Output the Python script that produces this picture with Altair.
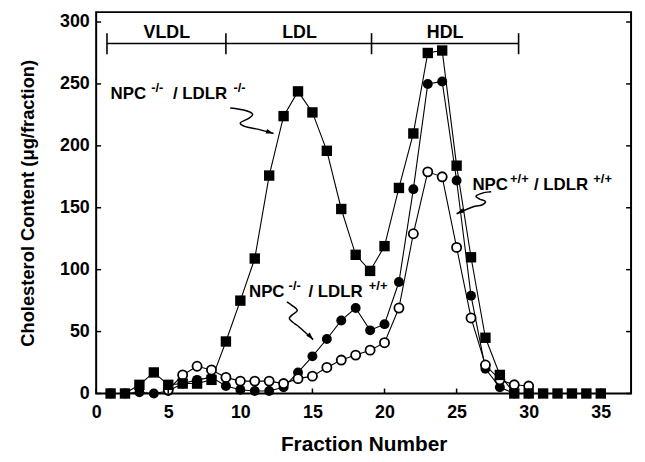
import altair as alt
import pandas as pd

# ---------------- data ----------------
fractions_all = list(range(1, 36))
npc_ko_ldlr_ko = [0, 0, 7, 17, 7, 8, 8, 11, 42, 75,
                  109, 176, 224, 244, 227, 196, 149, 112, 99, 119,
                  166, 210, 275, 277, 184, 110, 45, 15, 0, 0,
                  0, 0, 0, 0, 0]
fractions_ko_wt = list(range(1, 31))
npc_ko_ldlr_wt = [0, 0, 1, 0, 2, 8, 11, 13, 6, 3,
                  2, 2, 5, 17, 30, 44, 59, 69, 51, 56,
                  90, 165, 250, 252, 172, 79, 20, 5, 0, 0]
fractions_wt_wt = list(range(5, 31))
npc_wt_ldlr_wt = [3, 15, 22, 19, 13, 10, 10, 10, 8, 12,
                  14, 21, 27, 31, 35, 41, 69, 129, 179, 175,
                  118, 61, 23, 11, 7, 6]

x_ticks = [0, 5, 10, 15, 20, 25, 30, 35]
y_ticks = [0, 50, 100, 150, 200, 250, 300]

bracket_edges = [0.75, 9.0, 19.1, 29.3]
bracket_labels = ["VLDL", "LDL", "HDL"]
bracket_label_x = [4.9, 14.1, 24.2]

# ---------------- layout ----------------
W, H = 540, 385
XMAX, YMAX = 37.1, 308
FONT = "Liberation Sans"

xs = alt.Scale(domain=[0, XMAX], nice=False, zero=False)
ys = alt.Scale(domain=[0, YMAX], nice=False)

x_axis = alt.Axis(values=x_ticks, title="Fraction Number", labelFontSize=18,
                  titleFontSize=21, labelPadding=10, titlePadding=13,
                  labelFlush=False)
y_axis = alt.Axis(values=y_ticks, title="Cholesterol Content (\u03bcg/fraction)",
                  labelFontSize=18, titleFontSize=18.5, labelPadding=7,
                  titlePadding=22)


def X(field):
    return alt.X(f"{field}:Q", scale=xs, axis=x_axis)


def Y(field):
    return alt.Y(f"{field}:Q", scale=ys, axis=y_axis)


df_sq = pd.DataFrame({"fraction": fractions_all, "chol": npc_ko_ldlr_ko})
df_fc = pd.DataFrame({"fraction": fractions_ko_wt, "chol": npc_ko_ldlr_wt})
df_oc = pd.DataFrame({"fraction": fractions_wt_wt, "chol": npc_wt_ldlr_wt})

layers = []

# lines
for d in (df_sq, df_fc, df_oc):
    layers.append(alt.Chart(d).mark_line(color="black", strokeWidth=1.1)
                  .encode(x=X("fraction"), y=Y("chol")))

# markers
layers.append(alt.Chart(df_fc).mark_point(shape="circle", filled=True, color="black",
                                          size=100, opacity=1)
              .encode(x=X("fraction"), y=Y("chol")))
layers.append(alt.Chart(df_oc).mark_point(shape="circle", filled=True, fill="white",
                                          stroke="black", strokeWidth=1.8,
                                          size=85, opacity=1)
              .encode(x=X("fraction"), y=Y("chol")))
layers.append(alt.Chart(df_sq).mark_point(shape="square", filled=True, color="black",
                                          size=110, opacity=1)
              .encode(x=X("fraction"), y=Y("chol")))

# inward tick marks
dfx = pd.DataFrame({"t": x_ticks})
dfy = pd.DataFrame({"t": y_ticks})
layers.append(alt.Chart(dfx).mark_rule(color="black", strokeWidth=1.5)
              .encode(x=X("t"), y=alt.value(H), y2=alt.value(H - 5)))
layers.append(alt.Chart(dfy).mark_rule(color="black", strokeWidth=1.5)
              .encode(y=Y("t"), x=alt.value(0), x2=alt.value(5)))
layers.append(alt.Chart(dfy).mark_rule(color="black", strokeWidth=1.5)
              .encode(y=Y("t"), x=alt.value(W - 5), x2=alt.value(W)))

# lipoprotein bracket
BR_Y, BR_LO, BR_HI, BR_TXT = 282.6, 274, 291, 287
df_br = pd.DataFrame({"x1": [bracket_edges[0]], "x2": [bracket_edges[-1]], "y": [BR_Y]})
layers.append(alt.Chart(df_br).mark_rule(color="black", strokeWidth=1.6)
              .encode(x=X("x1"), x2="x2:Q", y=Y("y")))
df_bt = pd.DataFrame({"x": bracket_edges, "y1": [BR_LO] * 4, "y2": [BR_HI] * 4})
layers.append(alt.Chart(df_bt).mark_rule(color="black", strokeWidth=1.6)
              .encode(x=X("x"), y=Y("y1"), y2="y2:Q"))
df_bl = pd.DataFrame({"x": bracket_label_x, "y": [BR_TXT] * 3, "label": bracket_labels})
layers.append(alt.Chart(df_bl).mark_text(font=FONT, fontSize=18, fontWeight="bold",
                                         align="center", baseline="alphabetic")
              .encode(x=X("x"), y=Y("y"), text="label:N"))

# series labels (NPC genotype / LDLR genotype) with superscripts
labels = [
    # anchor x, anchor y, superscripts, piece offsets (px)
    (1.0, 238, "-/-", "-/-", [0, 41, 63, 124]),
    (10.6, 78, "-/-", "+/+", [0, 40, 60, 121]),
    (26.1, 164, "+/+", "+/+", [0, 38, 62, 122]),
]
for ax, ay, s1, s2, offs in labels:
    d = pd.DataFrame({"x": [ax], "y": [ay]})
    pieces = [("NPC", offs[0], False), (s1, offs[1], True),
              ("/ LDLR", offs[2], False), (s2, offs[3], True)]
    for txt, dx, sup in pieces:
        layers.append(alt.Chart(d).mark_text(
            font=FONT, fontWeight="bold", fontSize=13 if sup else 17,
            align="left", baseline="alphabetic", dx=dx, dy=-7 if sup else 0,
            text=txt).encode(x=X("x"), y=Y("y")))

# squiggle arrows (x, y in data units; last point is the arrow tip)
arrows = {
    "a1": ([9.3, 10.3, 10.85, 10.55, 10.0, 10.35, 11.2, 12.3],
           [230.5, 228.7, 225.5, 222.0, 218.5, 215.5, 213.5, 210.0], 108),
    "a2": ([13.23, 13.6, 13.95, 13.6, 13.4, 13.75, 14.1, 15.05],
           [74.0, 71.0, 67.0, 63.5, 60.5, 56.5, 53.5, 43.5], 137),
    "a3": ([27.4, 26.9, 26.35, 26.6, 27.0, 26.7, 26.2, 25.0],
           [163.0, 162.2, 159.5, 157.0, 155.0, 152.0, 151.0, 145.2], 244),
}
ARROW_HEAD = "M0,0 L-0.6,1.9 L0.6,1.9 Z"
for name, (axs, ays, ang) in arrows.items():
    d = pd.DataFrame({"x": axs, "y": ays, "i": list(range(len(axs)))})
    layers.append(alt.Chart(d).mark_line(color="black", strokeWidth=1.5,
                                         interpolate="cardinal")
                  .encode(x=X("x"), y=Y("y"), order="i:Q"))
    tip = pd.DataFrame({"x": [axs[-1]], "y": [ays[-1]]})
    layers.append(alt.Chart(tip).mark_point(shape=ARROW_HEAD, filled=True, color="black",
                                            size=64, angle=ang, opacity=1)
                  .encode(x=X("x"), y=Y("y")))

chart = alt.layer(*layers).properties(
    width=W, height=H,
    autosize=alt.AutoSizeParams(type="none"),
    padding={"left": 89, "top": 2, "right": 6, "bottom": 66},
    background="white",
).configure_view(stroke="black", strokeWidth=2).configure_axis(
    domain=False, ticks=False, grid=False,
    labelFont=FONT, labelFontWeight="bold", labelColor="black",
    titleFont=FONT, titleFontWeight="bold", titleColor="black",
)

chart.save("out.html", embed_options={"renderer": "svg", "actions": False})
